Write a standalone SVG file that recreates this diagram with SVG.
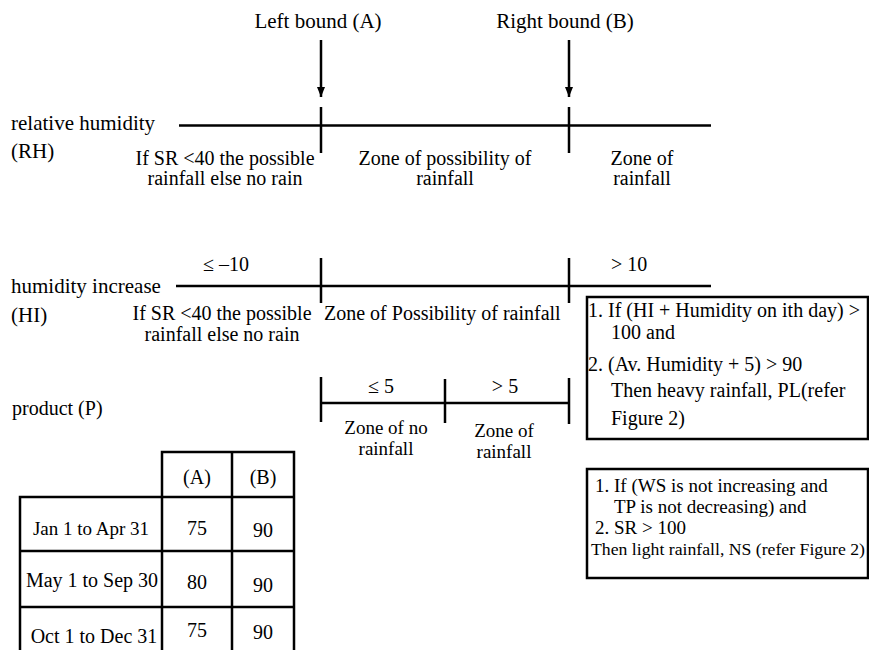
<svg xmlns="http://www.w3.org/2000/svg" width="869" height="650" viewBox="0 0 869 650">
<style>
text{font-family:"Liberation Serif","Times New Roman",serif;font-size:20px;fill:#000}
.c{text-anchor:middle}
.t{font-size:21px}
.m{font-size:19px}
.ln{stroke:#000;stroke-width:2.5;fill:none}
.bx{stroke:#000;stroke-width:2.5;fill:#fff}
</style>
<defs>
<marker id="ah" viewBox="0 0 10 10" refX="10" refY="5" markerWidth="10" markerHeight="10" markerUnits="userSpaceOnUse" orient="auto">
<path d="M0,1 L10,5 L0,9 Z" fill="#000"/>
</marker>
</defs>
<rect width="869" height="650" fill="#fff"/>

<g id="left-bound"><text class="c t" x="318" y="28">Left bound (A)</text></g>
<g id="right-bound"><text class="c t" x="565" y="28">Right bound (B)</text></g>

<g id="connectors">
<line class="ln" x1="321" y1="40" x2="321" y2="97" marker-end="url(#ah)"/>
<line class="ln" x1="569" y1="40" x2="569" y2="97" marker-end="url(#ah)"/>
</g>

<g id="rh-row">
<text class="t" x="11" y="130">relative humidity</text>
<text class="t" x="11" y="158">(RH)</text>
<line class="ln" x1="179" y1="125.5" x2="711" y2="125.5"/>
<line class="ln" x1="321" y1="107" x2="321" y2="153"/>
<line class="ln" x1="569" y1="107" x2="569" y2="153"/>
<text class="c" x="225" y="165">If SR &lt;40 the possible</text>
<text class="c" x="225" y="185">rainfall else no rain</text>
<text class="c" x="445" y="165">Zone of possibility of</text>
<text class="c" x="445" y="185">rainfall</text>
<text class="c" x="642" y="165">Zone of</text>
<text class="c" x="642" y="185">rainfall</text>
</g>

<g id="hi-row">
<text class="t" x="11" y="293">humidity increase</text>
<text class="t" x="11" y="322">(HI)</text>
<line class="ln" x1="176" y1="286" x2="711" y2="286"/>
<line class="ln" x1="321" y1="258" x2="321" y2="303"/>
<line class="ln" x1="569" y1="258" x2="569" y2="303"/>
<text x="203" y="271">≤ –10</text>
<text x="611" y="271">&gt; 10</text>
<text class="c" x="222" y="320">If SR &lt;40 the possible</text>
<text class="c" x="222" y="341">rainfall else no rain</text>
<text x="324" y="320">Zone of Possibility of rainfall</text>
</g>

<g id="p-row">
<text x="12" y="415">product (P)</text>
<line class="ln" x1="321" y1="403" x2="569" y2="403"/>
<line class="ln" x1="321" y1="377" x2="321" y2="422"/>
<line class="ln" x1="445" y1="379" x2="445" y2="423"/>
<line class="ln" x1="569" y1="378" x2="569" y2="424"/>
<text class="c" x="381" y="393">≤ 5</text>
<text class="c" x="505" y="393">&gt; 5</text>
<text class="c m" x="386" y="434">Zone of no</text>
<text class="c m" x="386" y="455">rainfall</text>
<text class="c m" x="504" y="437">Zone of</text>
<text class="c m" x="504" y="458">rainfall</text>
</g>

<g id="heavy-rule">
<rect class="bx" x="587" y="297" width="281" height="142"/>
<text x="588" y="317">1. If (HI + Humidity on ith day) &gt;</text>
<text x="611" y="339">100 and</text>
<text x="588" y="371">2. (Av. Humidity + 5) &gt; 90</text>
<text x="611" y="397">Then heavy rainfall, PL(refer</text>
<text x="611" y="425">Figure 2)</text>
</g>

<g id="light-rule">
<rect class="bx" x="587" y="469" width="281" height="109"/>
<text class="m" x="595" y="492">1. If (WS is not increasing and</text>
<text class="m" x="614" y="513">TP is not decreasing) and</text>
<text class="m" x="595" y="534">2. SR &gt; 100</text>
<text x="591" y="555" style="font-size:17px" textLength="274" lengthAdjust="spacingAndGlyphs">Then light rainfall, NS (refer Figure 2)</text>
</g>

<g id="bounds-table">
<path class="ln" d="M162,497 V452 H294 V497 M232,452 V650 M20,650 V497 H294 V650 M162,497 V650 M20,551 H294 M20,607 H294"/>
<text class="c" x="197" y="484">(A)</text>
<text class="c" x="263" y="484">(B)</text>
<text class="c" x="91" y="535" style="font-size:19px">Jan 1 to Apr 31</text>
<text class="c" x="197" y="535">75</text>
<text class="c" x="263" y="537">90</text>
<text class="c" x="92" y="587">May 1 to Sep 30</text>
<text class="c" x="197" y="589">80</text>
<text class="c" x="263" y="592">90</text>
<text class="c" x="94" y="643">Oct 1 to Dec 31</text>
<text class="c" x="197" y="637">75</text>
<text class="c" x="263" y="639">90</text>
</g>
</svg>
